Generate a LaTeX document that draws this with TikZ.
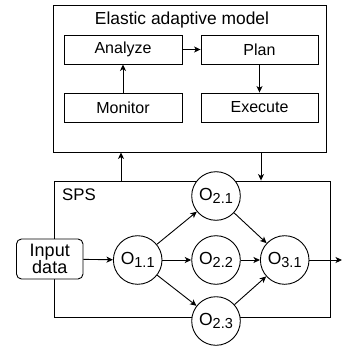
\documentclass[tikz,border=0pt]{standalone}
\usepackage{fontspec}
\setmainfont{Liberation Sans}
\usetikzlibrary{arrows.meta}
\tikzset{
  lbl/.style={font=\fontsize{16}{17}\selectfont},
  blk/.style={draw, line width=0.9pt, fill=white, minimum width=118pt, minimum height=29pt, inner sep=0pt, lbl},
  frame/.style={draw, line width=0.9pt, inner sep=0pt},
  op/.style={draw, circle, line width=0.9pt, fill=white, minimum size=48.6pt, inner sep=0pt, font=\fontsize{17.5}{18}\selectfont},
  arr/.style={line width=0.9pt, -{Stealth[length=6.5pt, width=6pt, inset=1.8pt]}},
}
\newcommand{\opname}[2]{O\raisebox{-3.3pt}{\fontsize{14.5}{14.5}\selectfont #1.#2}}
\begin{document}
\begin{tikzpicture}[x=1pt, y=-1pt]
\useasboundingbox (0,0) rectangle (343,347);

% outer frames
\node[frame, minimum width=273pt, minimum height=147pt] (eam) at (189.5,78.5) {};
\node[font=\fontsize{17.4}{20}\selectfont] (title) at (182,20) {Elastic adaptive model};
\node[frame, minimum width=276.5pt, minimum height=136pt] (sps) at (192.25,249) {};
\node[font=\fontsize{16.8}{18}\selectfont, anchor=west, inner sep=0pt] (spsl) at (62,195) {SPS};

% MAPE loop
\node[blk] (analyze) at (123,49.5) {Analyze};
\node[blk, minimum width=117pt] (plan) at (259.5,49.5) {Plan};
\node[blk] (monitor) at (123,107.5) {Monitor};
\node[blk, minimum width=117pt] (execute) at (259.5,107.5) {Execute};

\draw[arr] (monitor) -- (analyze);
\draw[arr] (analyze) -- (plan);
\draw[arr] (plan) -- (execute);

% links between the model and the stream processing system
\coordinate (upx) at (121,0);
\coordinate (dnx) at (261,0);
\draw[arr] (sps.north -| upx) -- (eam.south -| upx);
\draw[arr] (eam.south -| dnx) -- (sps.north -| dnx);

% operator graph
\node[draw, line width=0.9pt, fill=white, rounded corners=5pt, minimum width=66.5pt, minimum height=40pt, inner sep=0pt, font=\fontsize{18}{16.8}\selectfont, align=center] (input) at (49.75,259) {Input\\data};
\node[op] (o11) at (137.7,260) {\opname{1}{1}};
\node[op] (o21) at (216,196) {\opname{2}{1}};
\node[op] (o22) at (216,260) {\opname{2}{2}};
\node[op] (o23) at (216,321) {\opname{2}{3}};
\node[op] (o31) at (284.7,260) {\opname{3}{1}};
\coordinate (out) at (342,260);

\draw[arr] (input) -- (o11);
\draw[arr] (o11) -- (o21);
\draw[arr] (o11) -- (o22);
\draw[arr] (o11) -- (o23);
\draw[arr] (o21) -- (o31);
\draw[arr] (o22) -- (o31);
\draw[arr] (o23) -- (o31);
\draw[arr] (o31) -- (out);
\end{tikzpicture}
\end{document}
